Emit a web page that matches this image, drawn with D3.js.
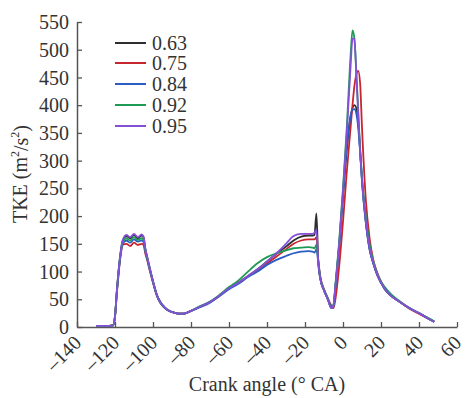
<!DOCTYPE html>
<html><head><meta charset="utf-8">
<script src="https://cdn.jsdelivr.net/npm/d3@7"></script>
<style>body{margin:0;background:#fff;} svg{display:block;}</style>
</head><body>
<svg id="chart" width="467" height="398"></svg>
<script>
const angles = [-130,-125,-121,-120,-119,-118,-117,-116,-114,-112,-110,-108,-106,-105,-104,-103,-102,-100,-98,-96,-94,-92,-90,-88,-86,-84,-82,-80,-75,-70,-65,-60,-55,-50,-45,-40,-35,-30,-26,-22,-18,-16,-15,-14,-13,-12,-10,-8,-6,-5,-4,-2,0,2,4,5,6,7,8,9,10,12,14,16,18,20,22,25,30,35,40,45,48];
const seriesNames = ["0.63","0.75","0.84","0.92","0.95"];
const seriesColors = ["#2e2e2e","#c8262e","#2a5cc4","#1f9a55","#8450d8"];
const tke063 = [2,2,3,20,66,105,135,155,164,160,166,160,165,162,140,125,110,82,58,44,36,30,27,25,24,24,26,29,37,45,57,70,80,92,104,118,132,145,156,163,165,165,166,205,115,88,66,50,34,38,70,145,235,320,380,395,400,395,370,320,265,190,140,114,94,80,68,57,45,34,25,15,10];
const tke075 = [2,2,3,18,62,100,130,148,150,146,152,148,150,148,132,120,106,80,57,43,35,30,27,25,24,24,26,29,37,45,56,70,80,91,102,115,127,140,150,156,158,158,158,162,120,92,68,52,38,34,50,110,190,280,360,400,435,455,462,440,360,230,160,120,98,82,70,58,45,33,24,15,10];
const tke084 = [2,2,3,19,64,102,132,150,156,152,158,154,156,153,136,122,108,81,57,43,35,30,27,25,24,24,26,29,36,44,56,68,78,90,100,112,121,128,133,136,137,136,134,140,116,88,66,50,34,38,72,148,240,325,380,392,393,385,360,315,262,188,140,114,94,80,68,57,45,34,25,15,9];
const tke092 = [2,2,3,19,65,104,134,152,160,156,162,157,160,157,138,124,109,82,58,44,36,30,27,25,24,24,26,29,38,46,58,72,84,100,115,126,133,138,142,143,144,143,142,148,118,90,68,52,35,40,76,155,250,360,490,535,520,460,390,320,270,200,150,118,97,82,72,60,46,34,25,16,10];
const tke095 = [2,2,3,20,66,106,136,156,166,162,168,162,167,163,141,126,111,83,58,44,36,30,27,25,24,24,26,29,37,45,57,70,80,92,104,118,133,150,164,168,168,168,170,175,118,88,66,50,34,39,74,150,245,350,470,520,520,455,385,318,265,192,142,115,95,80,69,57,45,34,25,15,9];
const allSeries = [tke063, tke075, tke084, tke092, tke095];
const xTicks = [-140,-120,-100,-80,-60,-40,-20,0,20,40,60];
const yTicks = [0,50,100,150,200,250,300,350,400,450,500,550];

const svg = d3.select("#chart");
const font = "'Liberation Serif','Times New Roman',serif";
const x = d3.scaleLinear().domain([-140,60]).range([77,457]);
const y = d3.scaleLinear().domain([0,550]).range([327,22]);
const axisColor = "#555";

// y axis
const gy = svg.append("g").attr("transform","translate(77,0)")
  .call(d3.axisLeft(y).tickValues(yTicks).tickSizeInner(-5).tickSizeOuter(0).tickPadding(8));
gy.select(".domain").attr("stroke",axisColor).attr("stroke-width",1.5);
gy.selectAll(".tick line").attr("stroke",axisColor).attr("stroke-width",1.3);
gy.selectAll(".tick text").attr("font-family",font).attr("font-size",20).attr("fill","#333").attr("dy","0.33em");

// x axis
const gx = svg.append("g").attr("transform","translate(0,327)")
  .call(d3.axisBottom(x).tickValues(xTicks).tickSizeInner(-5).tickSizeOuter(0)
    .tickFormat(d => d < 0 ? "\u2013" + Math.abs(d) : String(d)));
gx.select(".domain").attr("stroke",axisColor).attr("stroke-width",1.5);
gx.selectAll(".tick line").attr("stroke",axisColor).attr("stroke-width",1.3);
gx.selectAll(".tick text").attr("font-family",font).attr("font-size",20).attr("fill","#333")
  .attr("text-anchor","end").attr("y",0).attr("dy",0)
  .attr("transform","translate(5,17) rotate(-45)");

// lines
const line = d3.line().x((d,i)=>x(angles[i])).y(d=>y(d)).curve(d3.curveMonotoneX);
allSeries.forEach((s,k)=>{
  svg.append("path").datum(s).attr("d",line).attr("fill","none")
    .attr("stroke",seriesColors[k]).attr("stroke-width",1.8).attr("stroke-linejoin","round");
});

// legend
const legY = [43,63,84,105,126];
seriesNames.forEach((n,k)=>{
  svg.append("line").attr("x1",115).attr("x2",146).attr("y1",legY[k]).attr("y2",legY[k])
    .attr("stroke",seriesColors[k]).attr("stroke-width",2);
  svg.append("text").attr("x",152).attr("y",legY[k]).attr("dy","0.35em")
    .attr("font-family",font).attr("font-size",20).attr("fill","#333").text(n);
});

// axis titles
svg.append("text").attr("x",267).attr("y",391).attr("text-anchor","middle")
  .attr("font-family",font).attr("font-size",20).attr("fill","#333").text("Crank angle (° CA)");
const yt = svg.append("text").attr("transform","translate(27,174) rotate(-90)").attr("text-anchor","middle")
  .attr("font-family",font).attr("font-size",20).attr("fill","#333");
yt.append("tspan").text("TKE (m");
yt.append("tspan").attr("font-size",12).attr("dy","-0.7em").text("2");
yt.append("tspan").attr("dy","0.45em").text("/s");
yt.append("tspan").attr("font-size",12).attr("dy","-0.7em").text("2");
yt.append("tspan").attr("dy","0.45em").text(")");
</script>
</body></html>
